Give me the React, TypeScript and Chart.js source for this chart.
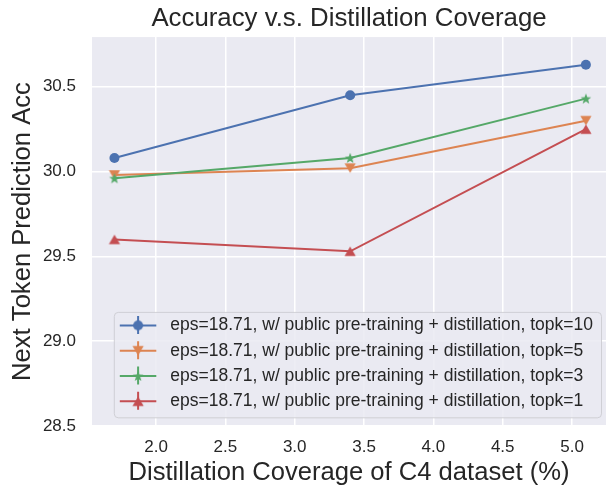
import React, { useEffect, useRef } from 'react';
import { Chart, registerables } from 'chart.js';

Chart.register(...registerables);

// ---- data ----
const coverage = [1.7, 3.4, 5.1];
const topk10 = [30.08, 30.45, 30.63];
const topk5 = [29.98, 30.02, 30.3];
const topk3 = [29.96, 30.08, 30.43];
const topk1 = [29.6, 29.53, 30.25];
const xTicks = [2.0, 2.5, 3.0, 3.5, 4.0, 4.5, 5.0];
const yTicks = [28.5, 29.0, 29.5, 30.0, 30.5];
const seriesLabels = [
  'eps=18.71, w/ public pre-training + distillation, topk=10',
  'eps=18.71, w/ public pre-training + distillation, topk=5',
  'eps=18.71, w/ public pre-training + distillation, topk=3',
  'eps=18.71, w/ public pre-training + distillation, topk=1',
];
const titleText = 'Accuracy v.s. Distillation Coverage';
const xTitle = 'Distillation Coverage of C4 dataset (%)';
const yTitle = 'Next Token Prediction Acc';

// ---- styles ----
const FONT = '"Liberation Sans", Arial, sans-serif';
const TEXT = '#262626';
const BG = '#EAEAF2';
const colors = ['#4C72B0', '#DD8452', '#55A868', '#C44E52'];
const markerKinds = ['circle', 'tridown', 'star', 'triup'];

function makeMarker(kind: string, color: string): HTMLCanvasElement {
  const c = document.createElement('canvas');
  c.width = 14;
  c.height = 14;
  const ctx = c.getContext('2d')!;
  ctx.translate(7, 7);
  ctx.fillStyle = color;
  ctx.beginPath();
  if (kind === 'circle') {
    ctx.arc(0, 0, 5, 0, Math.PI * 2);
  } else if (kind === 'tridown') {
    ctx.moveTo(-5.6, -4.8);
    ctx.lineTo(5.6, -4.8);
    ctx.lineTo(0, 4.8);
  } else if (kind === 'triup') {
    ctx.moveTo(0, -4.8);
    ctx.lineTo(5.6, 4.8);
    ctx.lineTo(-5.6, 4.8);
  } else {
    const ro = 5.6;
    const ri = 2.3;
    for (let i = 0; i < 10; i++) {
      const r = i % 2 === 0 ? ro : ri;
      const a = -Math.PI / 2 + (i * Math.PI) / 5;
      const px = Math.cos(a) * r;
      const py = Math.sin(a) * r + 0.4;
      if (i === 0) ctx.moveTo(px, py);
      else ctx.lineTo(px, py);
    }
  }
  ctx.closePath();
  ctx.fill();
  return c;
}

const bgPlugin = {
  id: 'areaBg',
  beforeDraw(chart: any) {
    const { ctx, chartArea } = chart;
    ctx.save();
    ctx.fillStyle = BG;
    ctx.fillRect(chartArea.left, chartArea.top, chartArea.right - chartArea.left, chartArea.bottom - chartArea.top);
    ctx.restore();
  },
};

function makeLegendPlugin(markers: HTMLCanvasElement[]) {
  return {
    id: 'errLegend',
    afterDraw(chart: any) {
      const { ctx, chartArea } = chart;
      const ds = chart.data.datasets;
      ctx.save();
      ctx.font = `17.5px ${FONT}`;
      let maxW = 0;
      ds.forEach((d: any) => {
        maxW = Math.max(maxW, ctx.measureText(d.label).width);
      });
      const rowH = 25.3;
      const textOff = 56.5;
      const w = textOff + maxW + 8;
      const bh = 13.5 * 2 + rowH * (ds.length - 1) + 2.5;
      const bx = chartArea.right - 5 - w;
      const by = chartArea.bottom - 8.7 - bh;
      ctx.beginPath();
      ctx.roundRect(bx + 0.5, by + 0.5, w, bh, 4);
      ctx.fillStyle = 'rgba(234,234,242,0.85)';
      ctx.fill();
      ctx.strokeStyle = 'rgba(204,204,210,0.9)';
      ctx.lineWidth = 1;
      ctx.stroke();
      ds.forEach((d: any, i: number) => {
        const y = by + 13.5 + i * rowH;
        const mx = bx + 24.3;
        ctx.strokeStyle = d.borderColor;
        ctx.lineWidth = 2;
        ctx.beginPath();
        ctx.moveTo(bx + 6, y);
        ctx.lineTo(bx + 42.5, y);
        ctx.moveTo(mx, y - 9.5);
        ctx.lineTo(mx, y + 8.5);
        ctx.stroke();
        const m = markers[i];
        ctx.drawImage(m, mx - m.width / 2, y - m.height / 2);
        ctx.fillStyle = TEXT;
        ctx.textBaseline = 'middle';
        ctx.textAlign = 'left';
        ctx.fillText(d.label, bx + textOff, y);
      });
      ctx.restore();
    },
  };
}

export default function App() {
  const ref = useRef<HTMLCanvasElement>(null);

  useEffect(() => {
    Chart.defaults.font.family = FONT;
    Chart.defaults.color = TEXT;
    const markers = colors.map((c, i) => makeMarker(markerKinds[i], c));
    const series = [topk10, topk5, topk3, topk1];
    const datasets = series.map((vals, i) => ({
      label: seriesLabels[i],
      data: coverage.map((x, j) => ({ x, y: vals[j] })),
      borderColor: colors[i],
      backgroundColor: colors[i],
      borderWidth: 2,
      pointStyle: i === 0 ? 'circle' : markers[i],
      pointRadius: 5,
      pointBorderWidth: 0,
      pointHoverRadius: 5,
      tension: 0,
      order: series.length - 1 - i,
    }));

    const chart = new Chart(ref.current!, {
      type: 'line',
      data: { datasets } as any,
      options: {
        responsive: false,
        animation: false,
        devicePixelRatio: 1,
        layout: { padding: 0 },
        plugins: {
          legend: { display: false },
          tooltip: { enabled: false },
          title: {
            display: true,
            text: titleText,
            color: TEXT,
            font: { size: 25.8, weight: 'normal' as any, family: FONT },
            padding: { top: 3, bottom: 3.1 },
            fullSize: false,
          },
        },
        scales: {
          x: {
            type: 'linear',
            min: 1.538,
            max: 5.245,
            afterBuildTicks: (s: any) => {
              s.ticks = xTicks.map((v) => ({ value: v }));
            },
            afterFit: (s: any) => {
              s.height = 61;
            },
            grid: { color: '#ffffff', lineWidth: 1.5, drawTicks: false },
            border: { display: false },
            ticks: {
              color: TEXT,
              font: { size: 17 },
              padding: 11.5,
              maxRotation: 0,
              callback: (v: any) => Number(v).toFixed(1),
            },
            title: {
              display: true,
              text: xTitle,
              color: TEXT,
              font: { size: 25.6 },
              padding: { top: 0, bottom: -1.2 },
            },
          },
          y: {
            type: 'linear',
            min: 28.5,
            max: 30.793,
            afterBuildTicks: (s: any) => {
              s.ticks = yTicks.map((v) => ({ value: v }));
            },
            afterFit: (s: any) => {
              s.width = 92;
            },
            grid: { color: '#ffffff', lineWidth: 1.5, drawTicks: false },
            border: { display: false },
            ticks: {
              color: TEXT,
              font: { size: 17 },
              padding: 16,
              callback: (v: any) => Number(v).toFixed(1),
            },
            title: {
              display: true,
              text: yTitle,
              color: TEXT,
              font: { size: 25.6 },
              padding: { top: 7.4, bottom: 0 },
            },
          },
        },
      } as any,
      plugins: [bgPlugin, makeLegendPlugin(markers)],
    });
    return () => chart.destroy();
  }, []);

  return (
    <div style={{ position: 'fixed', left: 0, top: 0, width: 611, height: 487, background: '#fff', overflow: 'hidden' }}>
      <canvas ref={ref} width={611} height={487} style={{ display: 'block', width: 611, height: 487 }} />
    </div>
  );
}
